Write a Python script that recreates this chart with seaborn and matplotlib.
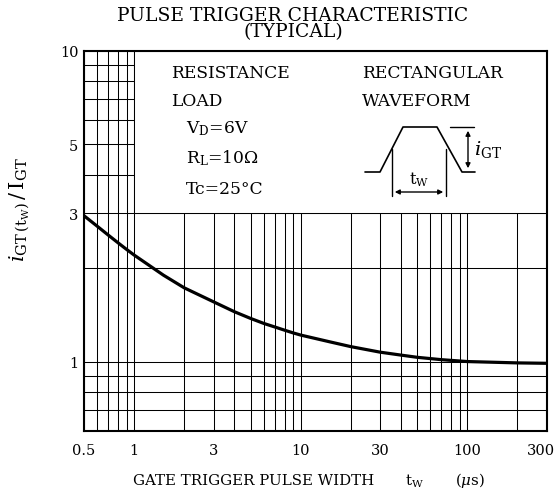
import numpy as np
import matplotlib
matplotlib.use("Agg")
import matplotlib.pyplot as plt
import matplotlib.transforms as mtransforms
import seaborn as sns
from matplotlib.lines import Line2D
from matplotlib.patches import Rectangle, FancyArrowPatch
from matplotlib.ticker import FixedLocator, NullFormatter, FixedFormatter

# pulse width (us) and relative gate trigger current
tw = [0.5, 0.6, 0.7, 0.8, 0.9, 1, 1.5, 2, 3, 4, 5, 6, 7, 8, 9, 10,
      15, 20, 30, 40, 50, 70, 100, 200, 300]
ratio = [2.95, 2.73, 2.555, 2.415, 2.30, 2.205, 1.90, 1.73, 1.56, 1.45, 1.38, 1.33,
         1.295, 1.265, 1.24, 1.22, 1.16, 1.12, 1.075, 1.052, 1.035, 1.017, 1.003,
         0.993, 0.99]

x_labels = [0.5, 1, 3, 10, 30, 100, 300]
x_grid = [0.5, 0.6, 0.7, 0.8, 0.9, 1, 2, 3, 4, 5, 6, 7, 8, 9,
          10, 20, 30, 40, 50, 60, 70, 80, 90, 100, 200, 300]
y_labels = [1, 3, 5, 10]
y_grid = [0.7, 0.8, 0.9, 1, 2, 3, 4, 5, 6, 7, 8, 9]

sns.set_theme(style="white")
plt.rcParams["font.family"] = ["DejaVu Serif"]
plt.rcParams["mathtext.fontset"] = "dejavuserif"
plt.rcParams["text.color"] = "black"
plt.rcParams["xtick.color"] = "black"
plt.rcParams["ytick.color"] = "black"

W, H = 557, 502
fig = plt.figure(figsize=(W / 100, H / 100), dpi=100)


def px(x, y):
    return (x / W, 1 - y / H)


ax = fig.add_axes([84 / W, 1 - 432 / H, (546.7 - 84) / W, (432 - 51.7) / H])
sns.lineplot(x=tw, y=ratio, ax=ax, color="black", lw=2.3, zorder=3)
ax.set_xscale("log")
ax.set_yscale("log")
ax.set_xlim(0.5, 300)
ax.set_ylim(0.6, 10)

ax.xaxis.set_major_locator(FixedLocator(x_labels))
ax.xaxis.set_major_formatter(FixedFormatter([f"{v:g}" for v in x_labels]))
ax.xaxis.set_minor_locator(FixedLocator(x_grid))
ax.xaxis.set_minor_formatter(NullFormatter())
ax.yaxis.set_major_locator(FixedLocator(y_labels))
ax.yaxis.set_major_formatter(FixedFormatter([f"{v:g}" for v in y_labels]))
ax.yaxis.set_minor_locator(FixedLocator(y_grid))
ax.yaxis.set_minor_formatter(NullFormatter())
ax.tick_params(which="both", length=0, labelsize=10.5, colors="black")
ax.tick_params(axis="x", pad=9)
ax.tick_params(axis="y", pad=4)
ax.grid(which="both", color="black", lw=0.75)
ax.set_axisbelow(True)
for s in ax.spines.values():
    s.set_color("black")
    s.set_linewidth(1.5)
ax.set_xlabel("")
ax.set_ylabel("")

# keep "300" inside the picture
last = ax.get_xticklabels()[-1]
last.set_transform(last.get_transform() +
                   mtransforms.ScaledTranslation(-6 / 100, 0, fig.dpi_scale_trans))

# blank area for the test conditions box
ax.add_patch(Rectangle((1, 3), 299, 7, facecolor="white", edgecolor="black",
                       lw=0.75, zorder=1))

fig.text(*px(293, 24), "PULSE TRIGGER CHARACTERISTIC\n(TYPICAL)", ha="center",
         va="center", fontsize=13.5, linespacing=0.85, multialignment="center")

fig.text(*px(133, 481), "GATE TRIGGER PULSE WIDTH", ha="left", va="center", fontsize=10.8)
fig.text(*px(405, 481), r"t$_{\rm W}$", ha="left", va="center", fontsize=10.8)
fig.text(*px(455, 481), r"($\mu$s)", ha="left", va="center", fontsize=10.8)
fig.text(*px(20, 210), r"$i_{\rm GT\,(t_W)}\,/\,{\rm I_{GT}}$", rotation=90,
         ha="center", va="center", fontsize=15)

cond = [("RESISTANCE", 171, 73), ("LOAD", 171, 101),
        (r"V$_{\rm D}$=6V", 186, 129), (r"R$_{\rm L}$=10$\Omega$", 186, 158),
        ("Tc=25°C", 186, 189), ("RECTANGULAR", 362, 74), ("WAVEFORM", 362, 101)]
for txt, x, y in cond:
    fig.text(*px(x, y), txt, ha="left", va="center", fontsize=12.3)

# pulse symbol
wave = [(365, 173), (380, 173), (403, 128), (437, 128), (462, 173), (475, 173)]
fig.add_artist(Line2D([px(*p)[0] for p in wave], [px(*p)[1] for p in wave],
                      color="black", lw=1.2))
for a, b in [((450, 128), (474, 128)), ((392, 150), (392, 197)), ((446, 150), (446, 197))]:
    fig.add_artist(Line2D([px(*a)[0], px(*b)[0]], [px(*a)[1], px(*b)[1]],
                          color="black", lw=1.0))
for a, b in [((468, 129), (468, 172)), ((392, 193), (446, 193))]:
    fig.add_artist(FancyArrowPatch(px(*a), px(*b), transform=fig.transFigure,
                                   arrowstyle="<|-|>", mutation_scale=7,
                                   color="black", lw=1.0))
fig.text(*px(474, 150), r"$i_{\rm GT}$", ha="left", va="center", fontsize=14)
fig.text(*px(419, 180), r"t$_{\rm W}$", ha="center", va="center", fontsize=11.5)

fig.savefig("out.png", dpi=100)
